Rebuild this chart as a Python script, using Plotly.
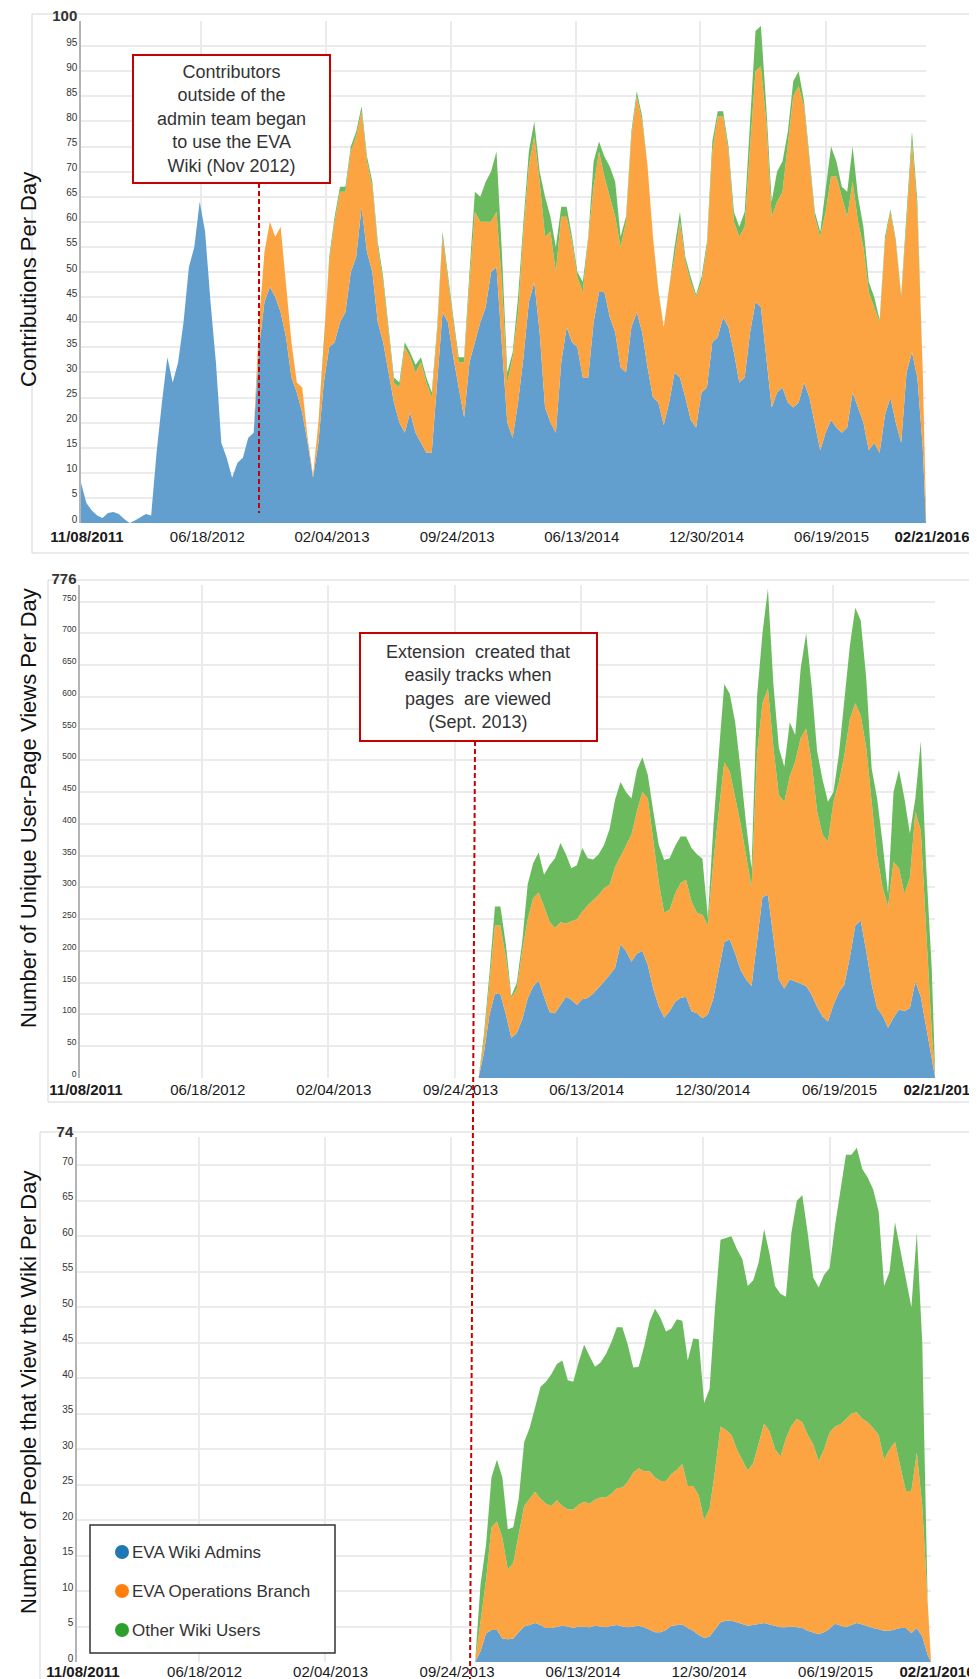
import plotly.graph_objects as go

W, H = 977, 1679

# ---------------- data ----------------
# x positions: day index since 11/08/2011 (sampled every 10 days, last = 02/21/2016)
days1 = list(range(0, 1561, 10)) + [1566]
days23 = list(range(730, 1561, 10)) + [1566]

tick_days = [0, 223, 454, 686, 917, 1148, 1380, 1566]
tick_labels = ["11/08/2011", "06/18/2012", "02/04/2013", "09/24/2013",
               "06/13/2014", "12/30/2014", "06/19/2015", "02/21/2016"]

series_names = ["EVA Wiki Admins", "EVA Operations Branch", "Other Wiki Users"]

# Panel 1: Contributions per day
contrib_admins = [
    8, 4, 2.5, 1.5, 1, 2, 2.2, 1.8, 0.8, 0, 0.5, 1.2, 1.8, 1.5,
    14, 24, 33, 28, 32, 40, 51, 55, 64, 58, 44, 32, 16, 13, 9, 12, 13, 17, 18,
    35, 44, 47, 45, 42, 37, 29, 26, 22, 16, 9, 16, 28,
    35, 36, 40, 42, 50, 53, 63, 54, 50, 40, 36, 30, 24, 20, 18, 22, 18, 16, 14, 14,
    28, 42, 40, 33, 27, 21, 32, 36, 40, 43, 50, 51,
    35, 20, 17, 24, 33, 44, 48, 38, 23, 20, 18, 32, 39, 36, 35, 29, 29, 40, 46, 46,
    41, 38, 31, 30, 39, 42, 38, 31, 25, 24, 19.5, 24, 30, 29, 25, 20.5, 19, 26, 27, 36,
    37, 41, 39, 34, 28, 29, 38, 44, 43, 33, 23, 26, 27, 24, 23, 24, 28, 25, 20, 14.5,
    18, 20.5, 19, 18, 19, 26, 23, 20, 14.5, 16, 14, 21.5, 25, 20, 16, 30, 34, 29, 15,
    0]
contrib_ops = [
    0, 0, 0, 0, 0, 0, 0, 0, 0, 0, 0, 0, 0, 0, 0, 0, 0, 0, 0, 0, 0, 0, 0, 0, 0, 0, 0,
    0, 0, 0, 0, 0, 0,
    5, 10, 13, 12, 17, 10, 7, 2, 5, 1, 0.5, 4, 7,
    17, 24, 26, 24, 24, 24, 19, 18, 17, 15, 12, 8, 4, 7, 17, 11, 12, 16, 14, 11,
    10, 15, 8, 7, 5, 11, 16, 26, 20, 17, 10, 11,
    13, 8, 16, 18, 25, 27, 29, 30, 34, 38, 32, 29, 22, 20, 14, 17, 27, 27, 28, 23,
    24, 23, 24, 30, 38, 43, 42, 40, 32, 22, 19.5, 23, 23, 31, 27, 27.5, 26, 22, 28, 38,
    44, 40, 35, 26, 29, 30, 37, 46, 48, 47, 38, 38, 39, 52, 62, 63, 55, 47, 41, 42.5,
    44, 48.5, 50, 47, 42, 42, 37, 35, 31.5, 27, 26, 34.5, 37, 36, 29, 30, 42, 33, 15,
    2]
contrib_others = [
    0, 0, 0, 0, 0, 0, 0, 0, 0, 0, 0, 0, 0, 0, 0, 0, 0, 0, 0, 0, 0, 0, 0, 0, 0, 0, 0,
    0, 0, 0, 0, 0, 0, 0, 0, 0, 0, 0, 0, 0, 0, 0, 0, 0, 0, 0,
    1, 1, 1, 1, 1, 1, 1, 1, 1, 1, 1, 0.5, 1, 1, 1, 1, 1.5, 1, 1, 1,
    1, 1, 1, 1, 1, 1, 2, 4, 5, 8, 10, 12,
    6, 2, 1, 3, 2, 3, 3, 2, 8, 3, 5, 2, 2, 1, 1, 2, 1, 5, 2, 4,
    6, 7, 2, 1, 1, 1, 1, 0, 0, 0.5, 0, 0.5, 2, 2, 1, 1, 0.5, 1, 1, 2,
    1, 1, 1, 2, 2, 3, 5, 8, 8, 3, 3, 6, 6, 2, 3, 3, 1, 1, 1, 1,
    5, 6, 3, 2, 5, 7, 5, 4, 2, 2, 0.5, 1, 0.5, 0.5, 0.5, 2, 2, 2, 0,
    0]

# Panel 2: unique user-page views per day
views_admins = [
    0, 40, 100, 133, 132, 100, 63, 71, 92, 125, 144, 153, 128, 104, 102, 115, 128, 123, 115, 124,
    126, 133, 142, 152, 162, 173, 210, 200, 183, 196, 200, 178, 140, 113, 95, 105, 120, 126, 128, 105,
    102, 94, 100, 125, 170, 214, 218, 196, 170, 155, 145, 215, 285, 288, 220, 155, 141, 155, 152, 148,
    145, 131, 112, 97, 89, 115, 135, 147, 190, 240, 248, 200, 147, 110, 98, 79, 95, 108, 105, 110,
    152, 128, 80, 37, 2]
views_ops = [
    0, 20, 50, 107, 108, 90, 63, 69, 108, 125, 139, 139, 142, 142, 134, 130, 115, 123, 135, 138,
    146, 147, 146, 147, 142, 159, 139, 167, 200, 224, 250, 262, 230, 195, 165, 160, 170, 181, 184, 173,
    158, 163, 141, 215, 250, 283, 265, 244, 230, 195, 155, 295, 305, 325, 300, 290, 294, 320, 346, 387,
    405, 367, 308, 286, 283, 320, 331, 361, 375, 350, 322, 320, 288, 240, 202, 191, 245, 222, 185, 205,
    267, 262, 150, 36, 4]
views_others = [
    0, 10, 15, 30, 30, 20, 3, 10, 15, 55, 55, 63, 50, 89, 110, 125, 109, 84, 85, 100,
    74, 64, 64, 68, 88, 106, 117, 83, 57, 65, 55, 37, 50, 59, 83, 81, 75, 73, 68, 84,
    92, 88, 11, 55, 90, 123, 122, 120, 85, 50, 30, 90, 110, 157, 100, 75, 55, 85, 42, 110,
    150, 120, 95, 87, 63, 15, 44, 84, 115, 150, 150, 110, 52, 90, 70, 20, 110, 155, 150, 70,
    21, 140, 100, 100, 8]

# Panel 3: people that view the wiki per day
people_admins = [
    0, 1.5, 4, 4.5, 4.5, 3.3, 3.2, 3.3, 4.2, 5, 5.2, 5.5, 5.2, 4.8, 4.8, 5, 5.1, 5, 4.8, 5,
    5, 4.9, 5.1, 5, 4.9, 5.1, 5.2, 5, 4.9, 5, 5.1, 4.9, 4.6, 4.2, 4.2, 4.5, 5.1, 5.2, 5.3, 4.8,
    4.4, 3.8, 3.4, 3.6, 4.6, 5.6, 5.8, 5.8, 5.6, 5.3, 5.1, 5.2, 5.3, 5.5, 5.3, 5.1, 4.9, 4.9, 5, 4.9,
    4.8, 4.4, 4.2, 3.9, 4.2, 4.7, 5.4, 5.2, 4.9, 5.2, 5.5, 5.3, 5, 4.8, 4.6, 4.4, 4.4, 4.6, 4.8, 4.8,
    4.1, 4.8, 3.6, 1, 0]
people_ops = [
    0, 4.5, 7.5, 14.5, 15.3, 14.2, 9.8, 10.7, 13.8, 17, 17.8, 18.5, 17.8, 17.5, 17.2, 17.8, 16.9, 16.5, 16.7, 17.2,
    17.6, 17.4, 17.8, 18.2, 18.3, 18.6, 19.3, 19.6, 20.5, 21.7, 22.2, 22, 22.3, 21.8, 21.3, 21, 21.4, 21.9, 22.6, 20,
    20.4, 19.7, 16.6, 18, 22.4, 27.6, 26.9, 26.2, 24.4, 23.3, 21.9, 22.8, 25.7, 28.1, 27.2, 24.9, 24.1, 26.6, 28.3, 29.4,
    29, 27.6, 26.5, 24.4, 25.8, 27.6, 27.8, 28.3, 29.3, 29.8, 29.7, 29, 28.8, 28.2, 27.4, 24.1, 25.6, 26.4, 22.7, 19.3,
    20, 24.7, 18.4, 6, 0]
people_others = [
    0, 5, 5, 7, 8.7, 8.5, 5.7, 5, 5, 9, 10, 12, 15.8, 17.2, 18.6, 19.2, 20.5, 18.2, 18, 20.1,
    22.1, 20.8, 18.7, 19, 20.2, 21.4, 22.7, 22.6, 19.3, 14.8, 14.3, 17.6, 21.1, 23.8, 23, 21.1, 20.5, 21.2, 20.2, 17.7,
    20.8, 22, 16.5, 16.9, 23, 26.3, 27.1, 28, 28.2, 28.2, 26, 25.8, 25.3, 27.4, 25, 23, 22.9, 20, 27.2, 30.7,
    32, 28.4, 23.5, 24.5, 24.6, 23.2, 28.3, 33, 37.3, 36.5, 37.3, 35.2, 34.5, 33.6, 31.5, 24.5, 25, 31, 30.5, 29.4,
    25.9, 31, 23, 1, 0]

for s in (contrib_admins, contrib_ops, contrib_others):
    assert len(s) == len(days1), len(s)
for s in (views_admins, views_ops, views_others, people_admins, people_ops, people_others):
    assert len(s) == len(days23), len(s)

panel_titles = ["Contributions Per Day",
                "Number of Unique User-Page Views Per Day",
                "Number of People that View the Wiki Per Day"]
y_max = [100, 776, 74]
y_step = [5, 50, 5]

note1_lines = ["Contributors", "outside of the", "admin team began", "to use the EVA", "Wiki (Nov 2012)"]
note2_lines = ["Extension  created that", "easily tracks when", "pages  are viewed", "(Sept. 2013)"]

fill_colors = ["#629fcf", "#fca442", "#6cba5e"]
marker_colors = ["#1f77b4", "#ff7f0e", "#2ca02c"]

FONT = "Liberation Sans, Arial, sans-serif"

def px(x):
    return x / W

def py(y):
    return 1 - y / H

# panel geometry in pixels: (left, right, top, bottom)
geo = [(73, 918, 13, 515), (72, 927, 577, 1070), (69, 923, 1129, 1654)]
label_standoff = [3, 1, -1]

fig = go.Figure()

panels = [
    (days1, [contrib_admins, contrib_ops, contrib_others]),
    (days23, [views_admins, views_ops, views_others]),
    (days23, [people_admins, people_ops, people_others]),
]
for i, (xs, sers) in enumerate(panels):
    suffix = "" if i == 0 else str(i + 1)
    for name, vals, col in zip(series_names, sers, fill_colors):
        fig.add_trace(go.Scatter(
            x=xs, y=vals, name=name, mode="lines",
            line=dict(width=0, color=col), fillcolor=col,
            stackgroup="s%d" % i, showlegend=False,
            xaxis="x" + suffix, yaxis="y" + suffix, hoverinfo="skip"))

ticktext_x = ["<b>%s</b>" % t if j in (0, len(tick_labels) - 1) else t
              for j, t in enumerate(tick_labels)]

layout = dict(
    template="none",
    width=W, height=H, margin=dict(l=0, r=0, t=0, b=0, pad=0, autoexpand=False),
    paper_bgcolor="white", plot_bgcolor="white",
    font=dict(family=FONT, color="#222"),
    showlegend=False,
)
for i in range(3):
    l, r, t, b = geo[i]
    sfx = "" if i == 0 else str(i + 1)
    yt = list(range(0, y_max[i] - y_step[i] // 2, y_step[i]))
    ytext = [str(v) for v in yt]
    yt.append(y_max[i])
    ytext.append("<span style='font-size:15px'><b>%d</b></span>" % y_max[i])
    layout["xaxis" + sfx] = dict(
        domain=[px(l), px(r)], anchor="y" + sfx, range=[0, 1566],
        tickvals=tick_days, ticktext=ticktext_x,
        tickfont=dict(size=15, color="#1a1a1a", family=FONT),
        ticks="", ticklabelshift=6, ticklabelstandoff=label_standoff[i],
        automargin=False, showgrid=False,
        minor=dict(tickvals=tick_days[1:-1], showgrid=True, gridcolor="#ebebeb",
                   gridwidth=1.5, ticks=""),
        zeroline=False, showline=False, fixedrange=True)
    layout["yaxis" + sfx] = dict(
        domain=[py(b), py(t)], anchor="x" + sfx, range=[0, y_max[i]],
        tickvals=yt, ticktext=ytext, automargin=False, ticklabelshift=-4,
        ticklabeloverflow="allow",
        tickfont=dict(size=10 if i != 1 else 8.5, color="#333", family=FONT),
        showgrid=True, gridcolor="#ebebeb", gridwidth=1.5,
        showline=True, linecolor="#b4b4b4", linewidth=1.5,
        zeroline=False, ticks="", fixedrange=True)
fig.update_layout(**layout)

shapes = []
annotations = []

# panel container borders
for (x0, y0, x1, y1) in [(24, 6, 972, 545), (40, 572, 972, 1094), (32, 1124, 972, 1679)]:
    shapes.append(dict(type="rect", xref="paper", yref="paper", layer="below",
                       x0=px(x0), x1=px(x1), y0=py(y1), y1=py(y0),
                       line=dict(color="#d6d6d6", width=1), fillcolor="rgba(0,0,0,0)"))

# y-axis titles
for title, (xc, yc) in zip(panel_titles, [(21, 272), (20, 800), (20, 1385)]):
    annotations.append(dict(text=title, xref="paper", yref="paper", x=px(xc), y=py(yc),
                            xanchor="center", yanchor="middle", textangle=-90, showarrow=False,
                            font=dict(size=22, color="#111", family=FONT)))

RED = "#c80000"
# note 1
shapes.append(dict(type="line", xref="paper", yref="paper", x0=px(251), x1=px(251),
                   y0=py(175), y1=py(505), line=dict(color=RED, width=2, dash="5px,3px")))
shapes.append(dict(type="rect", xref="paper", yref="paper", x0=px(125), x1=px(322),
                   y0=py(175), y1=py(47), line=dict(color=RED, width=2), fillcolor="white"))
annotations.append(dict(text="<br>".join(note1_lines), xref="paper", yref="paper",
                        x=px(223), y=py(111), xanchor="center", yanchor="middle", showarrow=False,
                        align="center", font=dict(size=18, color="#333", family=FONT)))
# note 2
shapes.append(dict(type="line", xref="paper", yref="paper", x0=px(467), x1=px(462),
                   y0=py(733), y1=py(1672), line=dict(color=RED, width=2, dash="5px,3px")))
shapes.append(dict(type="rect", xref="paper", yref="paper", x0=px(352), x1=px(589),
                   y0=py(733), y1=py(625), line=dict(color=RED, width=2), fillcolor="white"))
annotations.append(dict(text="<br>".join(note2_lines), xref="paper", yref="paper",
                        x=px(470), y=py(679), xanchor="center", yanchor="middle", showarrow=False,
                        align="center", font=dict(size=18, color="#333", family=FONT)))

# legend box
shapes.append(dict(type="rect", xref="paper", yref="paper", x0=px(82), x1=px(327),
                   y0=py(1645), y1=py(1517), line=dict(color="#333", width=1.5), fillcolor="white"))
for name, col, yc in zip(series_names, marker_colors, [1544, 1583, 1622]):
    shapes.append(dict(type="circle", xref="paper", yref="paper",
                       x0=px(114 - 7), x1=px(114 + 7), y0=py(yc + 7), y1=py(yc - 7),
                       line=dict(color=col, width=0), fillcolor=col))
    annotations.append(dict(text=name, xref="paper", yref="paper", x=px(122), y=py(yc),
                            xanchor="left", yanchor="middle", showarrow=False,
                            font=dict(size=17, color="#333", family=FONT)))

fig.update_layout(shapes=shapes, annotations=annotations)
fig.write_html("out.html")
